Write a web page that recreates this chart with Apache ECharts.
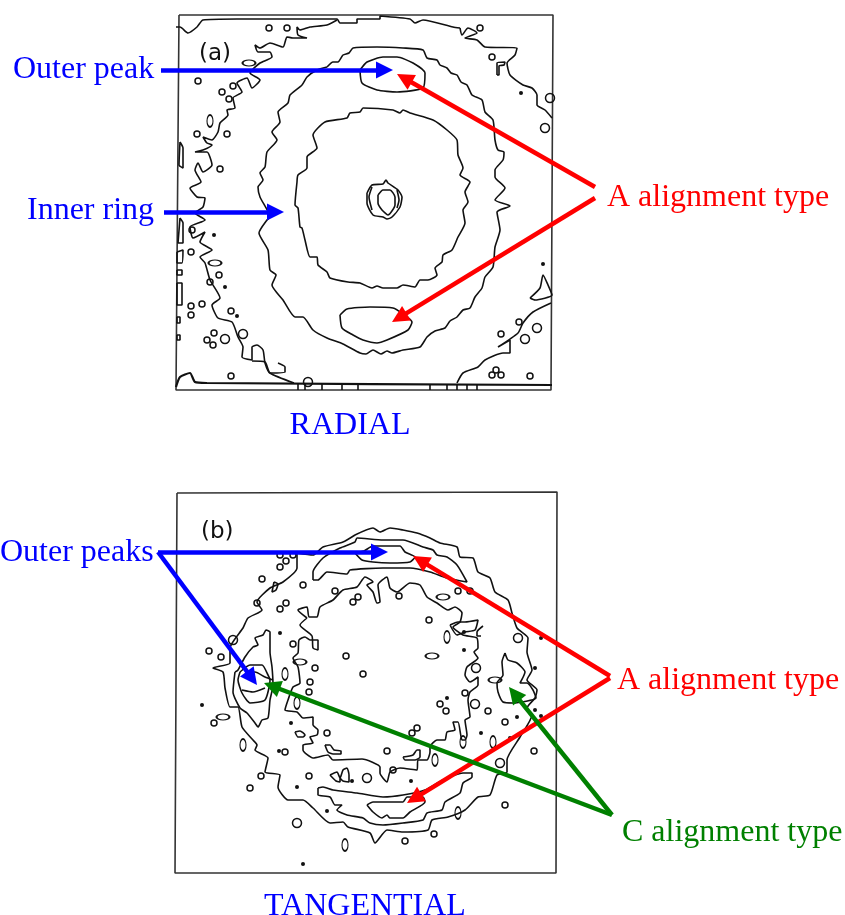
<!DOCTYPE html>
<html><head><meta charset="utf-8">
<style>html,body{margin:0;padding:0;background:#fff}#c{width:845px;height:915px}</style>
<script src="https://cdn.jsdelivr.net/npm/echarts@6/dist/echarts.min.js"></script>
</head><body><div id="c"></div>
<script>
// Picture read-offs, in the page-scaled units of the shared x/y axes.
const frameA=[[179,15],[553,15],[551,390],[176,390],[179,15]];
const frameB=[[177,493],[557,492],[556,873],[175,873],[177,493]];

const aRingOuter=[[327,67],[333,62],[338,62],[343,55],[349,53],[353,48],[377,47],[403,48],[423,50],[427,58],[437,60],[440,65],[447,68],[451,73],[457,75],[461,82],[467,85],[472,95],[482,100],[485,112],[493,120],[495,140],[498,150],[504,152],[503,160],[495,170],[495,177],[505,188],[495,200],[510,206],[497,212],[500,230],[495,247],[493,267],[485,277],[482,288],[475,297],[470,308],[463,310],[457,317],[450,321],[445,328],[435,331],[427,337],[420,347],[403,350],[392,353],[387,351],[381,354],[373,350],[366,354],[360,353],[343,344],[327,338],[313,330],[303,317],[295,317],[283,300],[272,285],[276,275],[270,270],[268,250],[259,233],[267,220],[270,217],[260,197],[258,187],[263,180],[260,173],[265,167],[267,152],[277,140],[272,132],[280,122],[278,112],[288,103],[290,95],[302,85],[307,77],[317,70],[327,67]];
const aRingInner=[[297,182],[298,175],[307,168],[307,157],[317,148],[313,135],[325,122],[347,118],[350,113],[360,112],[363,108],[393,110],[400,113],[403,110],[410,113],[433,120],[447,130],[457,140],[458,155],[463,168],[460,175],[470,182],[465,192],[468,202],[463,210],[465,223],[458,237],[452,250],[443,255],[442,262],[435,268],[437,275],[428,280],[420,280],[415,287],[403,285],[397,288],[383,288],[377,286],[372,288],[360,283],[348,282],[330,278],[327,272],[318,265],[317,257],[310,257],[305,240],[302,228],[300,227],[298,208],[295,205],[297,182]];
const aPeakTop=[[360,70],[367,62],[383,57],[397,57],[413,63],[425,73],[423,88],[397,92],[377,90],[362,83],[360,70]];
const aPeakBottom=[[340,315],[347,309],[370,307],[393,308],[403,314],[412,322],[408,330],[387,340],[377,343],[363,340],[353,335],[342,328],[340,315]];
const aKnotOuter=[[367,193],[372,185],[383,184],[386,180],[388,183],[398,190],[402,197],[400,207],[392,217],[387,219],[383,217],[373,215],[367,203],[367,193]];
const aKnotInner=[[378,195],[383,190],[390,190],[395,197],[395,205],[388,215],[382,210],[378,203],[378,195]];
const aKnotLeft=[[372,187],[369,197],[372,210]];
const aKnotRight=[[397,190],[399,200],[397,208]];
const aNoiseLeft=[[337,20],[327,25],[310,27],[300,30],[297,27],[298,35],[307,38],[293,38],[287,37],[283,47],[270,43],[260,48],[255,45],[258,52],[270,52],[272,57],[260,63],[250,73],[260,80],[252,88],[247,78],[237,83],[242,92],[233,98],[235,108],[227,110],[228,115],[220,123],[218,132],[212,140],[203,137],[207,143],[212,145],[203,150],[195,152],[207,152],[212,165],[203,172],[198,163],[195,170],[201,182],[190,188],[197,197],[205,198],[203,207],[195,213],[205,220],[190,227],[193,238],[205,232],[200,242],[212,250],[200,257],[205,263],[210,280],[220,298],[212,305],[218,318],[232,322],[238,337],[243,347],[242,357],[252,360],[252,347],[257,345],[263,350],[265,363],[270,373],[285,372],[285,367],[278,363]];
const aNoiseLeftTail=[[252,361],[265,362],[270,373],[294,383]];
const aNoiseTopLeft=[[176,27],[180,27],[188,33],[197,27],[203,20],[237,19],[337,19],[340,23],[357,23],[357,19],[380,19],[380,16],[410,19],[415,23],[423,20],[453,27],[460,28]];
const aNoiseTopRight=[[460,28],[462,35],[468,28],[477,33],[465,38],[477,40],[485,47],[517,48],[515,55],[507,63],[510,75],[523,85],[532,88],[537,95],[537,105],[545,110],[552,118]];
const aHook=[[497,75],[497,63],[505,62],[504,65],[499,66],[499,75],[497,75]];
const aNoiseBottomRight=[[457,383],[463,373],[478,367],[485,360],[503,353],[510,353],[510,340],[498,347],[518,333],[523,323],[533,312],[551,303]];
const aNoiseEdgeRight=[[530,298],[540,288],[543,275],[548,285],[552,295],[535,300],[530,298]];
const aEdgeLoops=[[[180,142],[183,148],[183,168],[179,165],[180,142]],[[180,218],[183,223],[183,243],[178,243],[180,218]],[[177,252],[183,250],[182,263],[177,263],[177,252]],[[177,270],[182,270],[182,275],[177,275],[177,270]],[[177,283],[182,283],[182,305],[177,305],[177,283]],[[177,317],[180,317],[180,323],[177,323],[177,317]],[[177,335],[180,335],[180,340],[177,340],[177,335]]];
const aBottom=[[176,387],[180,377],[190,373],[195,382],[207,383],[552,385]];
const aBottomTicks=[[[298,384],[298,390]],[[305,384],[305,390]],[[322,384],[322,390]],[[342,384],[342,390]],[[358,384],[358,390]],[[430,384],[430,390]],[[447,384],[447,390]],[[457,384],[457,390]],[[467,384],[467,390]],[[477,384],[477,390]]];
const aRings=[[269,28],[287,28],[198,81],[222,92],[229,99],[233,86],[197,134],[227,134],[220,169],[492,57],[480,28],[192,230],[191,252],[219,275],[210,282],[191,306],[191,315],[202,304],[231,311],[214,333],[207,340],[213,345],[231,376],[519,322],[501,334],[530,376],[492,375],[501,375],[496,370]];
const aBigRings=[[225,339],[243,334],[308,382],[537,328],[525,339],[545,128],[550,98]];
const aDots=[[214,235],[225,287],[237,316],[543,264],[521,93]];
const aWide=[[249,63],[215,263]];
const aTall=[[210,121]];

const bRingOuter=[[355,535],[373,528],[380,532],[390,528],[403,530],[417,533],[430,538],[440,543],[457,547],[460,557],[473,558],[478,572],[490,578],[495,592],[508,600],[512,613],[517,628],[528,638],[527,652],[532,670],[527,680],[537,690],[535,698],[527,708],[532,715],[520,737],[507,760],[507,772],[497,775],[490,795],[478,797],[465,810],[448,817],[432,820],[428,830],[403,832],[387,830],[375,843],[370,833],[348,827],[343,822],[330,823],[313,808],[303,800],[288,800],[278,787],[280,775],[265,772],[268,758],[255,750],[257,745],[253,740],[242,727],[238,707],[230,707],[225,688],[223,672],[213,668],[230,663],[230,648],[243,628],[248,618],[262,610],[257,602],[270,588],[283,582],[297,568],[297,553],[313,555],[323,547],[343,542],[355,535]];
const bCrescentTop=[[313,580],[313,572],[323,558],[340,548],[355,542],[357,538],[383,540],[403,540],[423,547],[433,550],[437,555],[447,557],[457,565],[467,582],[447,578],[430,572],[410,568],[383,568],[350,570],[347,574],[327,572],[318,580],[313,580]];
const bPeakTop=[[355,553],[364,551],[373,546],[400,546],[405,552],[415,557],[410,562],[390,563],[373,562],[362,560],[355,553]];
const bRingInner=[[307,618],[298,610],[307,607],[309,617],[317,617],[320,607],[333,600],[343,590],[357,587],[365,577],[373,582],[367,585],[373,592],[377,603],[380,602],[378,585],[387,577],[390,588],[397,592],[410,583],[420,585],[427,597],[437,603],[448,610],[455,607],[462,613],[460,622],[453,627],[463,635],[477,638],[478,648],[474,652],[478,658],[467,667],[465,675],[470,682],[478,677],[478,685],[470,692],[468,700],[470,717],[465,720],[467,735],[465,740],[462,740],[458,722],[453,722],[455,730],[447,732],[445,740],[437,740],[430,747],[430,752],[427,760],[418,760],[417,770],[400,768],[390,772],[387,782],[380,773],[380,767],[362,759],[333,760],[328,755],[313,758],[303,750],[303,745],[313,743],[310,737],[317,735],[318,730],[313,725],[313,717],[303,718],[297,712],[285,710],[288,700],[293,687],[300,683],[298,667],[293,658],[298,653],[299,640],[305,637],[310,640],[318,640],[318,650],[313,648],[312,636],[300,625],[307,618]];
const bRingInnerTop=[[450,625],[458,622],[465,622],[478,620],[475,630],[465,632],[457,635],[450,625]];
const bLobeLeft2=[[235,672],[233,692],[240,708],[247,713],[255,723],[258,727],[262,720],[268,718],[270,700],[273,685],[272,667],[270,652],[270,632],[266,630],[263,635],[255,638],[258,645],[253,647],[245,657],[238,670],[235,672]];
const bLobeLeft3=[[240,672],[250,665],[262,665],[268,675],[270,680],[265,700],[250,703],[242,693],[238,680],[240,672]];
const bLobeLeft4=[[242,690],[253,692],[265,688]];
const bLobeLeft5=[[245,673],[255,672],[265,677],[273,680]];
const bLobeRight=[[505,653],[502,662],[503,675],[497,683],[498,692],[503,702],[513,703],[536,698],[533,690],[527,683],[520,683],[525,672],[517,663],[508,660],[505,653]];
const bCrescentBottom=[[318,788],[323,787],[333,790],[357,793],[383,797],[403,795],[425,790],[443,780],[463,773],[472,773],[472,777],[463,783],[460,793],[445,802],[442,810],[427,813],[423,820],[403,823],[383,825],[370,823],[363,818],[347,815],[337,810],[342,805],[335,805],[330,797],[318,795],[318,788]];
const bPeakBottom=[[367,805],[373,802],[403,802],[407,797],[423,797],[425,802],[410,812],[403,818],[390,818],[387,815],[382,818],[373,812],[367,805]];
const bLoops=[[[330,775],[337,772],[340,778],[343,770],[347,768],[349,775],[349,782],[343,781],[340,778],[340,782],[336,781],[330,775]],[[325,745],[330,745],[334,750],[341,751],[341,754],[333,754],[328,752],[325,745]],[[295,732],[300,731],[305,735],[303,737],[298,737],[295,732]],[[403,757],[413,755],[417,750],[420,750],[420,757],[415,760],[405,760],[403,757]],[[483,626],[477,632],[477,636],[481,636]],[[274,582],[278,584],[276,590],[272,592],[274,582]]];
const bRings=[[262,579],[303,585],[335,591],[280,555],[293,555],[286,561],[280,567],[257,603],[286,603],[280,609],[358,597],[353,602],[399,596],[458,591],[470,591],[429,620],[346,656],[363,674],[315,668],[293,644],[209,651],[221,657],[309,692],[310,682],[214,723],[261,776],[250,788],[285,752],[309,776],[327,733],[387,751],[412,733],[417,728],[405,841],[434,834],[505,805],[534,751],[505,722],[488,711],[465,693],[440,704],[446,711],[393,770]];
const bBigRings=[[518,638],[476,668],[233,640],[297,823],[500,763],[367,778],[475,704]];
const bDots=[[280,633],[464,632],[464,650],[541,638],[535,668],[202,705],[291,723],[297,787],[279,751],[327,811],[352,781],[411,781],[447,698],[481,733],[517,717],[535,710],[541,716],[510,738],[303,864]];
const bWide=[[443,597],[432,656],[300,662],[223,717],[495,680]];
const bTall=[[447,637],[285,674],[297,703],[243,745],[345,845],[435,760],[493,742],[458,813],[463,742]];

const blueArrows=[[[161,70],[393,70]],[[164,212],[284,212]],[[158,552],[388,552]],[[158,552],[257,685]]];
const redArrows=[[[595,187],[397,74]],[[595,198],[392,322]],[[610,676],[413,556]],[[610,678],[407,803]]];
const greenArrows=[[[612,815],[264,683]],[[612,815],[509,687]]];

const blueLabels=[['Outer peak',13,70],['Inner ring',27,211],['Outer peaks',0,553]];
const redLabels=[['A alignment type',607,198],['A alignment type',617,681]];
const greenLabels=[['C alignment type',622,833]];
const captions=[['RADIAL',350,426],['TANGENTIAL',365,907]];
const panelTags=[['(a)',199,54],['(b)',201,532]];

const contours=[aRingOuter,aRingInner,aPeakTop,aPeakBottom,aKnotOuter,aKnotInner,aKnotLeft,aKnotRight,aNoiseLeft,aNoiseLeftTail,aNoiseTopLeft,aNoiseTopRight,aHook,aNoiseBottomRight,aNoiseEdgeRight,...aEdgeLoops,...aBottomTicks,
 bRingOuter,bCrescentTop,bPeakTop,bRingInner,bRingInnerTop,bLobeLeft2,bLobeLeft3,bLobeLeft4,bLobeLeft5,bLobeRight,bCrescentBottom,bPeakBottom,...bLoops];

const INK='#111';
const HEAD=17;
// the library centres its arrowhead on the end point, so stop the shaft half a head short of the read tip
const shaft=s=>{const dx=s[1][0]-s[0][0],dy=s[1][1]-s[0][1],n=Math.hypot(dx,dy),k=(HEAD/2)/n;return [s[0],[s[1][0]-dx*k,s[1][1]-dy*k]];};
const line=(d,w,c,smooth)=>({type:'line',data:d,symbol:'none',smooth:smooth,silent:true,clip:false,lineStyle:{color:c,width:w},animation:false,z:2});
const marks=(d,size,fill)=>({type:'scatter',data:d,symbol:'circle',symbolSize:size,silent:true,animation:false,z:2,
 itemStyle:{opacity:1,color:fill?INK:'rgba(0,0,0,0)',borderColor:INK,borderWidth:fill?0:1.5}});
const arrows=(d,c)=>({type:'lines',coordinateSystem:'cartesian2d',polyline:false,silent:true,animation:false,z:5,
 symbol:['none','triangle'],symbolSize:[HEAD,HEAD],
 lineStyle:{color:c,width:4.5,opacity:1,curveness:0},
 data:d.map(s=>({coords:shaft(s)}))});
const labels=(d,c,size,font,align)=>({type:'scatter',symbol:'circle',symbolSize:1,silent:true,animation:false,clip:false,z:6,
 itemStyle:{opacity:1,color:'rgba(0,0,0,0)'},
 data:d.map(t=>({name:t[0],value:[t[1],t[2]]})),
 label:{show:true,position:'inside',formatter:'{b}',color:c,opacity:1,fontFamily:font,fontSize:size,align:align,verticalAlign:'middle'}});

const SERIF='"Liberation Serif","Times New Roman",serif';
const chart=echarts.init(document.getElementById('c'),null,{renderer:'canvas'});
chart.setOption({
 animation:false,backgroundColor:'#fff',
 grid:{left:0,top:0,width:845,height:915,show:false},
 xAxis:{type:'value',min:0,max:845,show:false},
 yAxis:{type:'value',min:0,max:915,inverse:true,show:false},
 series:[
  line(frameA,1.6,'#333',false),line(frameB,1.6,'#333',false),
  ...contours.map(c=>line(c,1.6,INK,0.2)),line(aBottom,2.2,INK,0.2),
  marks(aRings.concat(bRings),6,false),marks(aBigRings.concat(bBigRings),9,false),
  marks(aDots.concat(bDots),4,true),
  marks(aWide.concat(bWide),[13,6],false),marks(aTall.concat(bTall),[6,12],false),
  arrows(blueArrows,'#0000ff'),arrows(redArrows,'#ff0000'),arrows(greenArrows,'#008000'),
  labels(blueLabels,'#0000ff',32,SERIF,'left'),labels(redLabels,'#ff0000',32,SERIF,'left'),
  labels(greenLabels,'#008000',32,SERIF,'left'),labels(captions,'#0000ff',32,SERIF,'center'),
  labels(panelTags,'#111',23,'"DejaVu Sans",sans-serif','left')
 ]
});
</script></body></html>
